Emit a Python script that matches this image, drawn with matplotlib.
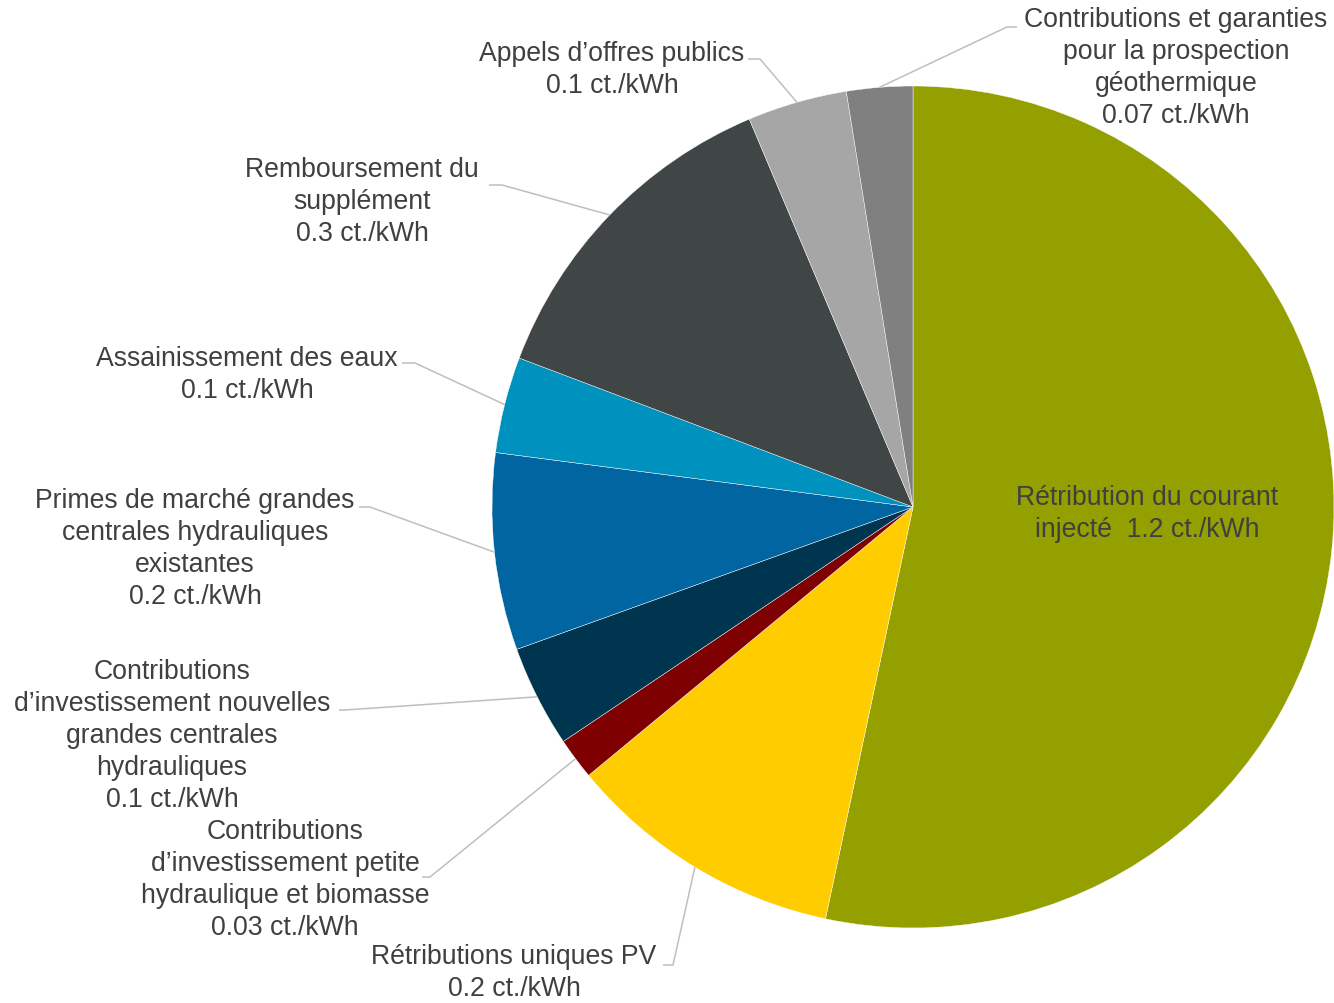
import matplotlib
matplotlib.use("Agg")
import matplotlib.pyplot as plt
import numpy as np

# Swiss RPC cost breakdown, ct./kWh (shares)
categories = [
    "Rétribution du courant\ninjecté  1.2 ct./kWh",
    "Rétributions uniques PV\n0.2 ct./kWh",
    "Contributions\nd’investissement petite\nhydraulique et biomasse\n0.03 ct./kWh",
    "Contributions\nd’investissement nouvelles\ngrandes centrales\nhydrauliques\n0.1 ct./kWh",
    "Primes de marché grandes\ncentrales hydrauliques\nexistantes\n0.2 ct./kWh",
    "Assainissement des eaux\n0.1 ct./kWh",
    "Remboursement du\nsupplément\n0.3 ct./kWh",
    "Appels d’offres publics\n0.1 ct./kWh",
    "Contributions et garanties\npour la prospection\ngéothermique\n0.07 ct./kWh",
]
values = [1.2, 0.24, 0.036, 0.088, 0.17, 0.083, 0.29, 0.086, 0.057]
colors = ["#94A000", "#FFCC00", "#7F0000", "#003550", "#0065A0",
          "#0092BE", "#404545", "#A6A6A6", "#808080"]

# layout in pixels (top-down y), label centre and leader start
W, H = 1334, 1004
center = (913, 508)
radius = 421
label_pos = [(1147, 514), (514, 973), (285, 880), (172, 736), (195, 549),
             (247, 375), (362, 202), (612, 70), (1176, 68)]
leader_start = [None, (663, 966), (422, 878), (339, 711), (359, 508),
                (402, 364), (489, 186), (748, 60), (1017, 28)]
stub = [0, 10, 8, 6, 11, 13, 13, 12, -10]

txt_color = "#404040"
plt.rcParams["font.family"] = ["Liberation Sans", "DejaVu Sans"]

fig = plt.figure(figsize=(W / 100, H / 100), dpi=100)
ax = fig.add_axes([0, 0, 1, 1])

wedges, _ = ax.pie(values, colors=colors, startangle=90, counterclock=False,
                   center=(center[0], H - center[1]), radius=radius,
                   wedgeprops=dict(linewidth=0.3, edgecolor="white"))
ax.set_xlim(0, W)
ax.set_ylim(0, H)
ax.set_aspect("equal")
ax.axis("off")

for i, w in enumerate(wedges):
    x, y = label_pos[i]
    ax.text(x, H - y, categories[i], ha="center", va="center",
            multialignment="center", fontsize=19.2, color=txt_color,
            linespacing=1.3)
    if leader_start[i] is None:
        continue
    mid = np.deg2rad((w.theta1 + w.theta2) / 2)
    ex = center[0] + radius * np.cos(mid)
    ey = H - center[1] + radius * np.sin(mid)
    sx, sy = leader_start[i]
    ax.plot([sx, sx + stub[i], ex], [H - sy, H - sy, ey],
            color="#BFBFBF", lw=1.1, solid_capstyle="butt")

fig.savefig("out.png", dpi=100)
